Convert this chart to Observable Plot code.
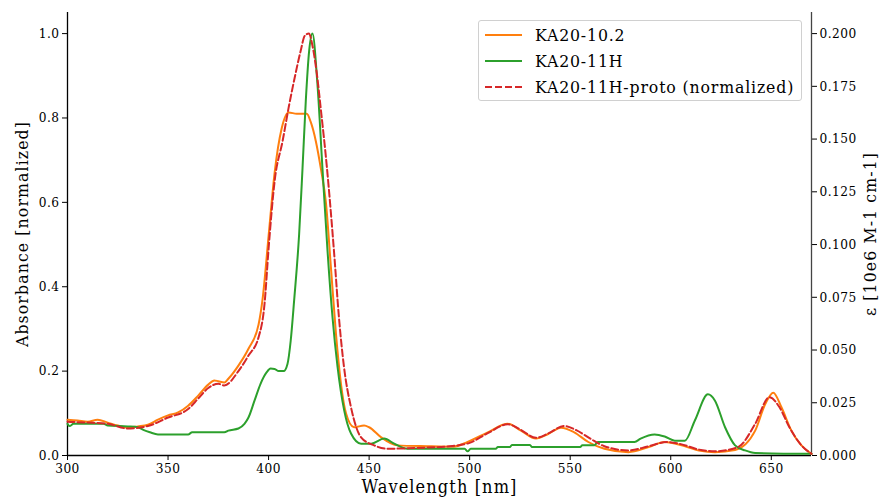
<!DOCTYPE html>
<html><head><meta charset="utf-8">
<script src="https://cdn.jsdelivr.net/npm/d3@7"></script>
<script src="https://cdn.jsdelivr.net/npm/@observablehq/plot@0.6"></script>
<style>
body{margin:0;background:#fff}
#wrap{position:relative;width:882px;height:501px;font-family:'DejaVu Serif Condensed','Noto Serif',serif}
#wrap svg text{letter-spacing:0.5px}
#wrap svg g[aria-label="text"] text{letter-spacing:1.1px}
#legend{position:absolute;left:478px;top:20px;width:324px;height:81px;border:1px solid #d0d0d0;border-radius:3px;background:rgba(255,255,255,0.85);box-sizing:border-box}
.row{position:absolute;left:6px;height:20px;display:flex;align-items:center;font-size:17.5px;letter-spacing:0.85px;color:#000;white-space:nowrap;font-family:'DejaVu Serif Condensed','Noto Serif',serif}
.row svg{margin-right:13px}
</style>
</head><body><div id="wrap"><div id="legend"></div></div>
<script>
const seriesNames = ["KA20-10.2","KA20-11H","KA20-11H-proto (normalized)"];
const seriesColors = ["#ff7f0e","#2ca02c","#d62728"];
const xTicks = [300,350,400,450,500,550,600,650];
const leftTicks = [0,0.2,0.4,0.6,0.8,1.0];
const rightTicks = [0,0.125,0.25,0.375,0.5,0.625,0.75,0.875,1.0];

const orangeX = [300,305,310,315,320,325,330,335,340,345,350,355,360,365,370,373,375,378,380,385,390,395,397,400,403,406.5,410,414,419,421,423.5,426,428.5,431,433.5,436,438.5,442.5,447.5,450,456,464,479,492,499,509,519,525.5,533,539,545.5,552,559,567,579,589,597,604,614,622,632,642,647,651,655,660,665,670];
const orangeY = [0.085,0.083,0.08,0.085,0.078,0.071,0.066,0.069,0.073,0.085,0.095,0.102,0.118,0.142,0.168,0.178,0.176,0.173,0.182,0.213,0.253,0.31,0.37,0.52,0.67,0.775,0.813,0.81,0.81,0.79,0.745,0.68,0.6,0.446,0.289,0.17,0.1,0.067,0.071,0.067,0.043,0.024,0.022,0.021,0.032,0.055,0.075,0.059,0.04,0.051,0.066,0.055,0.032,0.016,0.008,0.02,0.032,0.026,0.012,0.008,0.013,0.059,0.122,0.149,0.115,0.059,0.024,0.004];

const greenX = [300,301,303,310,318,320,330,335,338,341,345,360,362,378,380,385,388,390,393,396,399,401,403,405,407.5,409.4,411,412.7,415.2,416.9,418.5,420.2,421.8,424.3,426.8,429.3,431.8,434.3,437.6,441,446,451,457.5,462.5,469,497.5,499,500.5,513,514,520,521,530,531,555,556,562,563.8,582,585,592,597,602,607,612,618.5,622,627,632,637,642,670];
const greenY = [0.075,0.07,0.075,0.075,0.075,0.071,0.069,0.067,0.06,0.055,0.05,0.05,0.055,0.055,0.059,0.064,0.075,0.09,0.13,0.17,0.197,0.206,0.205,0.2,0.2,0.217,0.272,0.367,0.525,0.683,0.84,0.96,1.0,0.88,0.68,0.486,0.327,0.21,0.107,0.052,0.028,0.028,0.04,0.028,0.016,0.016,0.01,0.016,0.016,0.02,0.02,0.025,0.025,0.02,0.02,0.024,0.024,0.032,0.032,0.04,0.05,0.045,0.035,0.035,0.083,0.145,0.13,0.067,0.024,0.012,0.006,0.004];

const redX = [300,310,320,330,340,350,360,365,370,375,378,385,390,395,398,400,403,407,410,413,416,418,420,422,424,426,429,432.5,435,437.5,441,446,452.5,459,474,490,500,509,519,525,533,539,547,553,560,567,579,589,598,605,614,622,633.5,642,649,654,659,665,670];
const redY = [0.08,0.078,0.075,0.064,0.07,0.09,0.11,0.135,0.16,0.17,0.166,0.2,0.237,0.28,0.36,0.49,0.65,0.746,0.825,0.896,0.96,0.995,1.0,0.967,0.905,0.82,0.683,0.486,0.327,0.21,0.114,0.043,0.024,0.016,0.018,0.022,0.03,0.053,0.074,0.062,0.042,0.052,0.07,0.06,0.04,0.022,0.012,0.022,0.032,0.027,0.014,0.01,0.02,0.075,0.138,0.115,0.067,0.024,0.004];

const toRows = (xs, ys) => xs.map((x, i) => ({x, y: ys[i]}));
const orange = toRows(orangeX, orangeY);
const green = toRows(greenX, greenY);
const red = toRows(redX, redY);

const FONT = "'DejaVu Serif Condensed', 'Noto Serif', serif";
const chart = Plot.plot({
  width: 882, height: 501,
  marginLeft: 67, marginRight: 71, marginTop: 12, marginBottom: 46,
  style: {fontFamily: FONT, fontSize: "13.5px", background: "white", color: "black", overflow: "visible"},
  x: {domain: [300, 670]},
  y: {domain: [0, 1.05]},
  marks: [
    Plot.axisX({ticks: xTicks, tickSize: 5, tickPadding: 3, label: null, tickFormat: d => String(d)}),
    Plot.axisY({anchor: "left", ticks: leftTicks, tickSize: 5, tickPadding: 3, label: null, tickFormat: d => d.toFixed(1)}),
    Plot.axisY({anchor: "right", ticks: rightTicks, tickSize: 5, tickPadding: 3, label: null, tickFormat: d => (d * 0.2).toFixed(3)}),
    Plot.ruleY([0], {stroke: "black", strokeWidth: 1.3}),
    Plot.ruleX([300], {stroke: "black", strokeWidth: 1.3}),
    Plot.ruleX([670], {stroke: "#444", strokeWidth: 1.3}),
    Plot.line(orange, {x: "x", y: "y", stroke: seriesColors[0], strokeWidth: 2, curve: "monotone-x"}),
    Plot.line(green, {x: "x", y: "y", stroke: seriesColors[1], strokeWidth: 2, curve: "monotone-x"}),
    Plot.line(red, {x: "x", y: "y", stroke: seriesColors[2], strokeWidth: 2, strokeDasharray: "7,3", curve: "monotone-x"}),
    Plot.text(["Wavelength [nm]"], {frameAnchor: "bottom", dy: 37.5, textAnchor: "middle", fontSize: 18, fill: "black"}),
    Plot.text(["Absorbance [normalized]"], {frameAnchor: "left", dx: -45, rotate: -90, textAnchor: "middle", fontSize: 17.5, fill: "black"}),
    Plot.text(["ε [10e6 M-1 cm-1]"], {frameAnchor: "right", dx: 59, rotate: -90, textAnchor: "middle", fontSize: 17.5, fill: "black"})
  ]
});
const wrap = document.getElementById("wrap");
wrap.insertBefore(chart, wrap.firstChild);

const legend = document.getElementById("legend");
const tops = [4, 30, 56];
seriesNames.forEach((name, i) => {
  const row = document.createElement("div");
  row.className = "row";
  row.style.top = tops[i] + "px";
  const dash = i === 2 ? ' stroke-dasharray="7,3"' : '';
  row.innerHTML = `<svg width="37" height="6"><line x1="0" y1="3" x2="37" y2="3" stroke="${seriesColors[i]}" stroke-width="2"${dash}/></svg><span>${name}</span>`;
  legend.appendChild(row);
});
</script></body></html>
